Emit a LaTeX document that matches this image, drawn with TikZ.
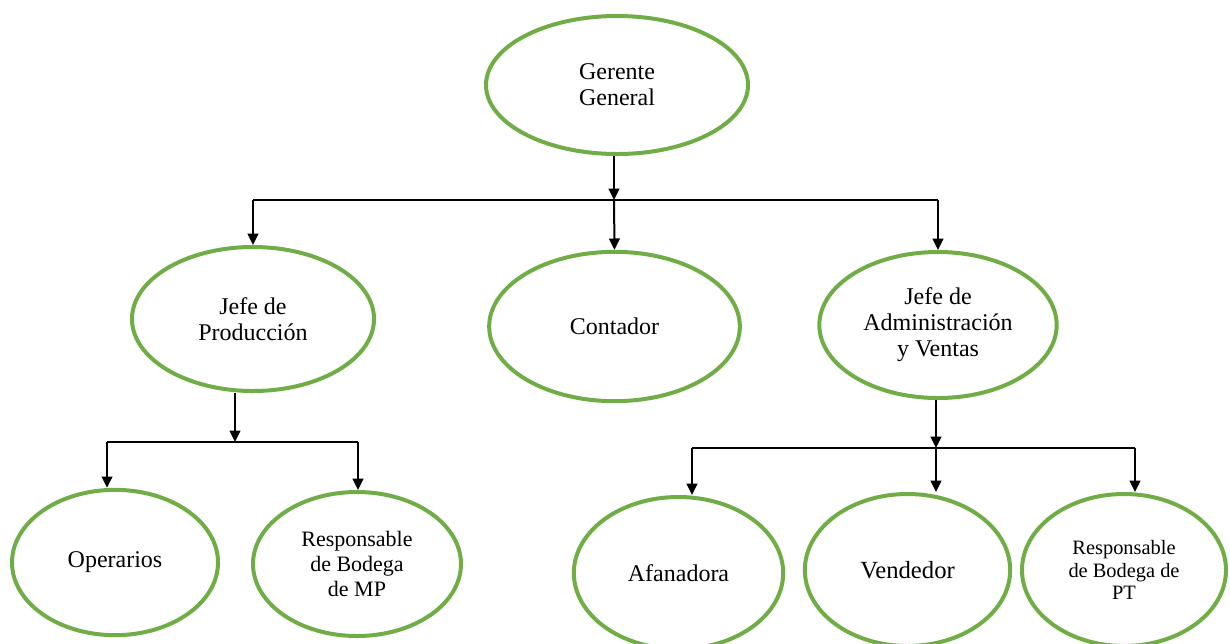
\documentclass[tikz,border=0pt]{standalone}
\usepackage{fontspec}
\setmainfont{Liberation Serif}
\usepackage{xcolor}
\usetikzlibrary{arrows.meta, positioning}
\usetikzlibrary{shapes.geometric}
\definecolor{rolegreen}{HTML}{70AD47}

\begin{document}
\begin{tikzpicture}[x=0.75pt, y=-0.75pt, every node/.style={align=center}, >={Triangle[length=8.5pt, width=8pt]}]
        \def\ringwidth{3pt}
        \def\linkwidth{1.5pt}
        \clip (0,0) rectangle (1230,643);
        \begin{scope}[every node/.style={align=center, ellipse, draw=rolegreen, line width=\ringwidth, inner sep=0pt, font=\fontsize{18}{19.5}\selectfont}]
            \node[minimum width=196.5pt, minimum height=103.5pt] (gerente) at (617,85) {Gerente\\ General};
            \node[minimum width=181.5pt, minimum height=108pt] (jefeprod) at (253,319) {Jefe de\\ Producción};
            \node[minimum width=188pt, minimum height=112pt] (contador) at (614.5,326.5) {Contador};
            \node[minimum width=178pt, minimum height=109.5pt] (jefeadm) at (938,325) {Jefe de\\ Administración\\ y Ventas};
            \node[minimum width=154.5pt, minimum height=109pt] (operarios) at (115,562.5) {Operarios};
            \node[minimum width=156pt, minimum height=108pt, font=\fontsize{16.5}{18.5}\selectfont] (bodegamp) at (357,564) {Responsable\\ de Bodega\\ de MP};
            \node[minimum width=157pt, minimum height=114pt] (afanadora) at (678.5,573) {Afanadora};
            \node[minimum width=154pt, minimum height=114pt, font=\fontsize{18.5}{19.5}\selectfont] (vendedor) at (907.5,570) {Vendedor};
            \node[minimum width=153pt, minimum height=114pt, font=\fontsize{15.3}{17}\selectfont] (bodegapt) at (1124,570) {Responsable\\ de Bodega de\\ PT};
        \end{scope}
        \begin{scope}[line width=\linkwidth]
            % first level
            \coordinate (topbar) at (614,200);
            \draw[->] (gerente.south -| topbar) -- (topbar);
            \draw (topbar -| jefeprod) -- (topbar -| jefeadm);
            \draw[->] (topbar -| jefeprod) -- (jefeprod.north);
            \draw[->] (topbar) -- (contador.north);
            \draw[->] (topbar -| jefeadm) -- (jefeadm.north);
            % production
            \coordinate (prodbar) at (235,442);
            \coordinate (prodleft) at (107,442);
            \coordinate (prodright) at (358,442);
            \draw[->] (jefeprod.south -| prodbar) -- (prodbar);
            \draw (prodleft) -- (prodright);
            \draw[->] (prodleft) -- (prodleft |- operarios.north);
            \draw[->] (prodright) -- (prodright |- bodegamp.north);
            % administration and sales
            \coordinate (admbar) at (936,448);
            \coordinate (admleft) at (692,448);
            \coordinate (admright) at (1135,448);
            \draw[->] (jefeadm.south -| admbar) -- (admbar);
            \draw (admleft) -- (admright);
            \draw[->] (admleft) -- (admleft |- afanadora.north);
            \draw[->] (admbar) -- (vendedor.north -| admbar);
            \draw[->] (admright) -- (admright |- bodegapt.north);
        \end{scope}
    \end{tikzpicture}
\end{document}
